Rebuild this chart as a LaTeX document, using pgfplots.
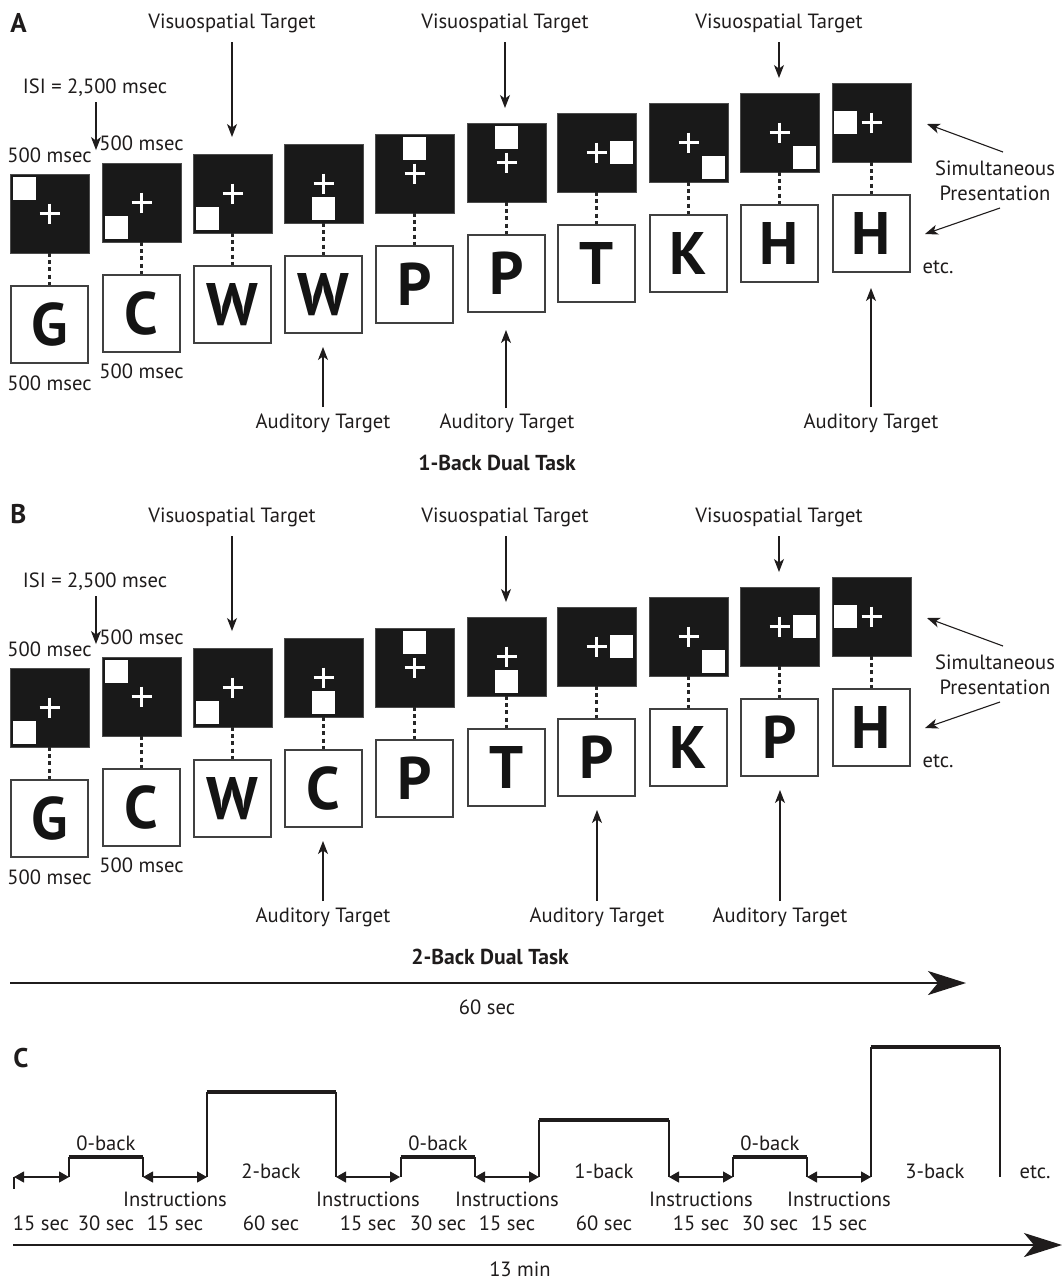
\documentclass[border=0pt]{standalone}
\usepackage{pgfplots}
\pgfplotsset{compat=1.18}
\usetikzlibrary{arrows.meta}
\usepackage{fontspec}
\setmainfont{PT Sans}
\definecolor{textc}{rgb}{0.12,0.11,0.11}
\newcommand\tf{\fontsize{10.3}{12}\selectfont}
\newcommand\bl{\fontsize{30}{30}\selectfont\bfseries}
\newcommand\pl{\fontsize{13.5}{14}\selectfont\bfseries}
\newcommand\ttl{\fontsize{10.8}{12}\selectfont\bfseries}
\tikzset{
 lab/.style={font=\tf, text=textc, anchor=base, inner sep=0pt},
 plab/.style={font=\pl, text=textc, anchor=base west, inner sep=0pt},
 tlab/.style={font=\ttl, text=textc, anchor=base, inner sep=0pt},
 thinarr/.style={draw=textc, line width=0.55pt, -{Stealth[length=6.5pt,width=5pt,inset=1.8pt]}},
 dblarr/.style={draw=textc, line width=0.6pt, {Triangle[length=5pt,width=5.5pt]}-{Triangle[length=5pt,width=5.5pt]}},
 bigarr/.style={draw=textc, line width=1.1pt, -{Stealth[length=19pt,width=12pt,inset=5pt]}},
}
% #1 x0, #2 top, #3 square dx, #4 square dy, #5 letter, #6 gap to letter box
\newcommand{\stim}[6]{%
 \pgfmathsetmacro\xa{#1}%
 \pgfmathsetmacro\xb{#1+79}%
 \pgfmathsetmacro\ya{#2}%
 \pgfmathsetmacro\yb{#2+79}%
 \pgfmathsetmacro\xc{#1+39.5}%
 \pgfmathsetmacro\yc{#2+39.5}%
 \pgfmathsetmacro\sxa{#1+#3}%
 \pgfmathsetmacro\sxb{#1+#3+23}%
 \pgfmathsetmacro\sya{#2+#4}%
 \pgfmathsetmacro\syb{#2+#4+23}%
 \pgfmathsetmacro\cxl{#1+29.5}\pgfmathsetmacro\cxr{#1+49.5}%
 \pgfmathsetmacro\cyt{#2+29.5}\pgfmathsetmacro\cyb{#2+49.5}%
 \pgfmathsetmacro\wa{#2+#6}%
 \pgfmathsetmacro\wb{#2+#6+77}%
 \pgfmathsetmacro\wc{#2+#6+38.5}%
 \pgfmathsetmacro\wxa{#1+1}\pgfmathsetmacro\wxb{#1+78}%
 \edef\tmp{%
  \noexpand\filldraw[fill=black!90,draw=black!70,line width=0.5pt] (axis cs:\xa,\ya) rectangle (axis cs:\xb,\yb);
  \noexpand\fill[white] (axis cs:\sxa,\sya) rectangle (axis cs:\sxb,\syb);
  \noexpand\draw[white,line width=1.1pt] (axis cs:\cxl,\yc) -- (axis cs:\cxr,\yc) (axis cs:\xc,\cyt) -- (axis cs:\xc,\cyb);
  \noexpand\draw[black!85,line width=1.4pt,dash pattern=on 2pt off 1.6pt] (axis cs:\xc,\yb) -- (axis cs:\xc,\wa);
  \noexpand\draw[black!75,line width=0.7pt] (axis cs:\wxa,\wa) rectangle (axis cs:\wxb,\wb);
  \noexpand\node[text=black!92,inner sep=0pt] at (axis cs:\xc,\wc) {\noexpand\bl #5};
 }\tmp}
\begin{document}
\begin{tikzpicture}
\begin{axis}[hide axis, scale only axis, width=532pt, height=641pt,
  xmin=0, xmax=1064, ymin=0, ymax=1282, y dir=reverse, clip=false]
\fill[white] (axis cs:0,0) rectangle (axis cs:1064,1282);
% ---------------- Panel A ----------------
\node[plab] at (axis cs:10,32) {A};
\stim{10}{174}{3}{3}{G}{112}
\stim{102}{163}{3}{53}{C}{112}
\stim{193}{154}{3}{53}{W}{112}
\stim{284}{144}{28}{53}{W}{112}
\stim{375}{134}{28}{3}{P}{112}
\stim{467}{123}{28}{3}{P}{112}
\stim{557}{113}{53}{28}{T}{112}
\stim{649}{103}{53}{53}{K}{112}
\stim{740}{93}{53}{53}{H}{112}
\stim{832}{83}{2}{28}{H}{112}
\node[lab] at (axis cs:232,28) {Visuospatial Target};
\node[lab] at (axis cs:505,28) {Visuospatial Target};
\node[lab] at (axis cs:779,28) {Visuospatial Target};
\draw[thinarr] (axis cs:232,42) -- (axis cs:232,137);
\draw[thinarr] (axis cs:505,42) -- (axis cs:505,108);
\draw[thinarr] (axis cs:779,42) -- (axis cs:779,78);
\node[lab] at (axis cs:95,93) {ISI = 2,500 msec};
\draw[thinarr] (axis cs:96,102) -- (axis cs:96,150);
\node[lab] at (axis cs:49.5,162) {500 msec};
\node[lab] at (axis cs:141.5,150) {500 msec};
\node[lab] at (axis cs:49.5,390) {500 msec};
\node[lab] at (axis cs:141.5,378) {500 msec};
\draw[thinarr] (axis cs:323,407) -- (axis cs:323,347);
\draw[thinarr] (axis cs:506,408) -- (axis cs:506,330);
\draw[thinarr] (axis cs:871,407) -- (axis cs:871,288);
\node[lab] at (axis cs:323,428) {Auditory Target};
\node[lab] at (axis cs:507,428) {Auditory Target};
\node[lab] at (axis cs:871,428) {Auditory Target};
\draw[thinarr] (axis cs:1003,152) -- (axis cs:927,124);
\draw[thinarr] (axis cs:1000,208) -- (axis cs:925,234);
\node[lab] at (axis cs:995,175) {Simultaneous};
\node[lab] at (axis cs:995,200) {Presentation};
\node[lab] at (axis cs:938,273) {etc.};
\node[tlab] at (axis cs:497,470) {1-Back Dual Task};
% ---------------- Panel B ----------------
\node[plab] at (axis cs:10,523) {B};
\stim{10}{668}{3}{53}{G}{112}
\stim{102}{657}{3}{3}{C}{112}
\stim{193}{648}{3}{53}{W}{112}
\stim{284}{638}{28}{53}{C}{112}
\stim{375}{628}{28}{3}{P}{112}
\stim{467}{617}{28}{53}{T}{112}
\stim{557}{607}{53}{28}{P}{112}
\stim{649}{597}{53}{53}{K}{112}
\stim{740}{587}{53}{28}{P}{112}
\stim{832}{577}{2}{28}{H}{112}
\node[lab] at (axis cs:232,522) {Visuospatial Target};
\node[lab] at (axis cs:505,522) {Visuospatial Target};
\node[lab] at (axis cs:779,522) {Visuospatial Target};
\draw[thinarr] (axis cs:232,536) -- (axis cs:232,631);
\draw[thinarr] (axis cs:506,536) -- (axis cs:506,602);
\draw[thinarr] (axis cs:779,536) -- (axis cs:779,572);
\node[lab] at (axis cs:95,587) {ISI = 2,500 msec};
\draw[thinarr] (axis cs:96,596) -- (axis cs:96,644);
\node[lab] at (axis cs:49.5,656) {500 msec};
\node[lab] at (axis cs:141.5,644) {500 msec};
\node[lab] at (axis cs:49.5,884) {500 msec};
\node[lab] at (axis cs:141.5,872) {500 msec};
\draw[thinarr] (axis cs:323,901) -- (axis cs:323,841);
\draw[thinarr] (axis cs:597,901) -- (axis cs:597,810);
\draw[thinarr] (axis cs:780,901) -- (axis cs:780,790);
\node[lab] at (axis cs:323,922) {Auditory Target};
\node[lab] at (axis cs:597,922) {Auditory Target};
\node[lab] at (axis cs:780,922) {Auditory Target};
\draw[thinarr] (axis cs:1003,646) -- (axis cs:927,618);
\draw[thinarr] (axis cs:1000,702) -- (axis cs:925,728);
\node[lab] at (axis cs:995,669) {Simultaneous};
\node[lab] at (axis cs:995,694) {Presentation};
\node[lab] at (axis cs:938,767) {etc.};
\node[tlab] at (axis cs:490,964) {2-Back Dual Task};
\draw[bigarr] (axis cs:10,983) -- (axis cs:966,983);
\node[lab] at (axis cs:487,1014) {60 sec};
% ---------------- Panel C ----------------
\node[plab] at (axis cs:13,1067) {C};
\draw[draw=textc, line width=0.6pt] (axis cs:14,1177) -- (axis cs:14,1189);
\draw[dblarr] (axis cs:14,1177) -- (axis cs:69,1177);
\draw[dblarr] (axis cs:143,1177) -- (axis cs:207,1177);
\draw[dblarr] (axis cs:336,1177) -- (axis cs:400,1177);
\draw[dblarr] (axis cs:475,1177) -- (axis cs:539,1177);
\draw[dblarr] (axis cs:669,1177) -- (axis cs:733,1177);
\draw[dblarr] (axis cs:807,1177) -- (axis cs:871,1177);
% blocks
\draw[draw=textc, line width=0.65pt] (axis cs:69,1177) -- (axis cs:69,1157) (axis cs:143,1157) -- (axis cs:143,1177);
\draw[draw=textc, line width=1.8pt] (axis cs:68.7,1157) -- (axis cs:143.3,1157);
\draw[draw=textc, line width=0.65pt] (axis cs:207,1177) -- (axis cs:207,1092) (axis cs:336,1092) -- (axis cs:336,1177);
\draw[draw=textc, line width=1.8pt] (axis cs:206.7,1092) -- (axis cs:336.3,1092);
\draw[draw=textc, line width=0.65pt] (axis cs:401,1177) -- (axis cs:401,1157) (axis cs:475,1157) -- (axis cs:475,1177);
\draw[draw=textc, line width=1.8pt] (axis cs:400.7,1157) -- (axis cs:475.3,1157);
\draw[draw=textc, line width=0.65pt] (axis cs:539,1177) -- (axis cs:539,1120) (axis cs:669,1120) -- (axis cs:669,1177);
\draw[draw=textc, line width=1.8pt] (axis cs:538.7,1120) -- (axis cs:669.3,1120);
\draw[draw=textc, line width=0.65pt] (axis cs:733,1177) -- (axis cs:733,1157) (axis cs:807,1157) -- (axis cs:807,1177);
\draw[draw=textc, line width=1.8pt] (axis cs:732.7,1157) -- (axis cs:807.3,1157);
\draw[draw=textc, line width=0.65pt] (axis cs:871,1177) -- (axis cs:871,1047) (axis cs:1000,1047) -- (axis cs:1000,1177);
\draw[draw=textc, line width=1.8pt] (axis cs:870.7,1047) -- (axis cs:1000.3,1047);
\node[lab] at (axis cs:106,1150) {0-back};
\node[lab] at (axis cs:438,1150) {0-back};
\node[lab] at (axis cs:770,1150) {0-back};
\node[lab] at (axis cs:271,1178) {2-back};
\node[lab] at (axis cs:604,1178) {1-back};
\node[lab] at (axis cs:935,1178) {3-back};
\node[lab] at (axis cs:1035,1178) {etc.};
\node[lab] at (axis cs:175,1206) {Instructions};
\node[lab] at (axis cs:368,1206) {Instructions};
\node[lab] at (axis cs:507,1206) {Instructions};
\node[lab] at (axis cs:701,1206) {Instructions};
\node[lab] at (axis cs:839,1206) {Instructions};
\node[lab] at (axis cs:41,1230) {15 sec};
\node[lab] at (axis cs:106,1230) {30 sec};
\node[lab] at (axis cs:175,1230) {15 sec};
\node[lab] at (axis cs:271,1230) {60 sec};
\node[lab] at (axis cs:368,1230) {15 sec};
\node[lab] at (axis cs:438,1230) {30 sec};
\node[lab] at (axis cs:507,1230) {15 sec};
\node[lab] at (axis cs:604,1230) {60 sec};
\node[lab] at (axis cs:701,1230) {15 sec};
\node[lab] at (axis cs:770,1230) {30 sec};
\node[lab] at (axis cs:839,1230) {15 sec};
\draw[bigarr] (axis cs:13,1245) -- (axis cs:1062,1245);
\node[lab] at (axis cs:520,1276) {13 min};
\end{axis}
\end{tikzpicture}
\end{document}
